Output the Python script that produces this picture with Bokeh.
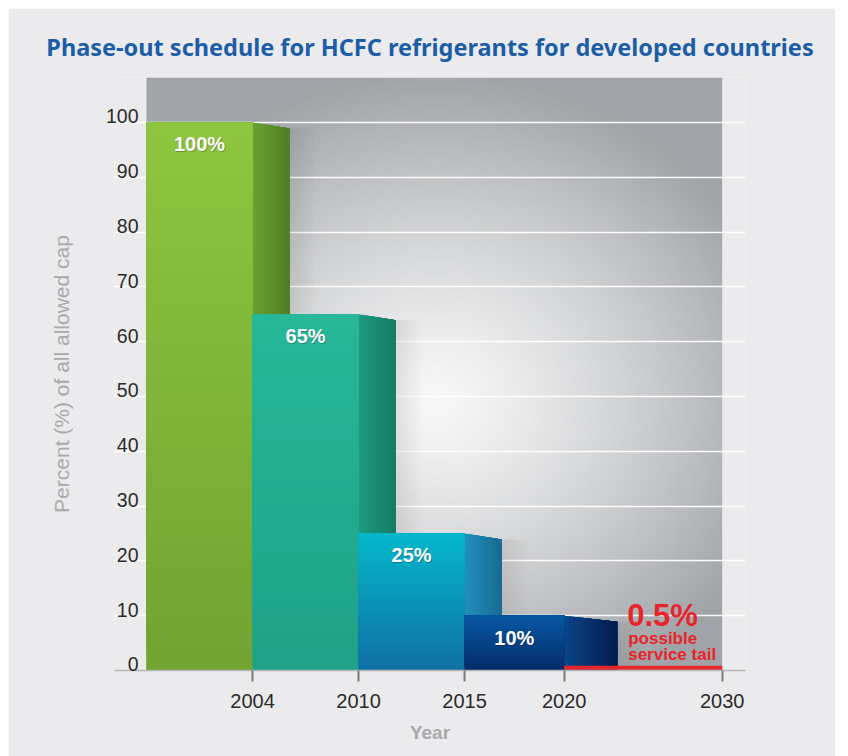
import numpy as np
from bokeh.plotting import figure
from bokeh.models import FixedTicker
from bokeh.core.properties import value
from bokeh.embed import file_html
from bokeh.resources import INLINE

# ---------------- data ----------------
years = ["2004", "2010", "2015", "2020", "2030"]
year_pos = [1.0, 2.0, 3.0, 3.94, 5.43]      # where each year sits on the drawn (non-linear) time axis
bar_values = [100, 65, 25, 10]
bar_labels = ["100%", "65%", "25%", "10%"]
tail_value = 0.5
tail_label = "0.5%"
tail_note = ["possible", "service tail"]
y_ticks = [0, 10, 20, 30, 40, 50, 60, 70, 80, 90, 100]

# ---------------- styles ----------------
front_top = ["#8dc63f", "#26b898", "#05b8cb", "#0858a3"]
front_bottom = ["#71a332", "#1fa287", "#1070a4", "#052c6a"]
side_left = ["#69a131", "#1d9a80", "#2190bc", "#0a4589"]
side_right = ["#4f7e25", "#177b64", "#186a92", "#021b4c"]
side_depth = [0.35, 0.35, 0.35, 0.5]
side_drop = 1.1
red = "#e8242a"
panel = "#ebebed"
FONT = value("Liberation Sans")

x_lo, x_hi = -0.302, 5.65
y_top = 108.2


def hex2rgb(h):
    h = h.lstrip("#")
    return np.array([int(h[i:i + 2], 16) for i in (0, 2, 4)], dtype=float)


def mix(a, b, t):
    c = hex2rgb(a) * (1 - t) + hex2rgb(b) * t
    return "#%02x%02x%02x" % tuple(int(round(v)) for v in c)


p = figure(width=827, height=748, x_range=(x_lo, x_hi), y_range=(0, y_top),
           output_backend="svg", toolbar_location=None,
           min_border_left=106, min_border_right=90, min_border_top=69, min_border_bottom=86,
           background_fill_color=panel, border_fill_color=panel, outline_line_color=None,
           title="Phase-out schedule for HCFC refrigerants for developed countries")
p.margin = (8, 0, 0, 8)

# title
p.title.text_font = "Noto Sans"
p.title.text_font_size = "23.5px"
p.title.text_font_style = "bold"
p.title.text_color = "#1b5ea7"
p.title.align = "center"
p.title.standoff = 30

# background radial gradient (behind the bars)
W, H = 576.0, 593.0
nx, ny = 200, 200
gx = np.linspace(0, W, nx)
gy = np.linspace(0, H, ny)
X, Y = np.meshgrid(gx, gy)
t = np.sqrt(((X - 290) / 360.0) ** 2 + ((Y - 270) / 330.0) ** 2)
t = np.clip(t, 0, 1) ** 1.25
c0 = np.array([248, 248, 248], dtype=float)
c1 = np.array([160, 163, 167], dtype=float)
img = np.empty((ny, nx), dtype=np.uint32)
view = img.view(dtype=np.uint8).reshape((ny, nx, 4))
for k in range(3):
    view[:, :, k] = (c0[k] + (c1[k] - c0[k]) * t).astype(np.uint8)
view[:, :, 3] = 255
bg = p.image_rgba(image=[img], x=0, y=0, dw=year_pos[4], dh=y_top)
bg.level = "image"

# grid
p.ygrid.ticker = FixedTicker(ticks=y_ticks)
p.ygrid.grid_line_color = "white"
p.ygrid.grid_line_width = 1.5
p.ygrid.grid_line_alpha = 0.95
p.xgrid.grid_line_color = None

lefts = [0.0] + year_pos[:3]
rights = year_pos[:4]

# soft shadows right of the side faces
S = 6
sh_xs, sh_ys, sh_a = [], [], []
for i, v in enumerate(bar_values):
    x0 = rights[i] + side_depth[i]
    for j in range(S):
        a = x0 + 0.04 * j
        b = x0 + 0.04 * (j + 1)
        sh_xs.append([a, a, b, b])
        sh_ys.append([0, v - side_drop, v - side_drop, 0])
        sh_a.append(0.07 * (1 - j / S))
p.patches(sh_xs, sh_ys, fill_color="black", fill_alpha=sh_a, line_color=None)

# side faces: overlapping strips, each running to the back edge (no seams)
N = 12
sx, sy, sc = [], [], []
for i, v in enumerate(bar_values):
    end = rights[i] + side_depth[i]
    for j in range(N):
        f0 = j / N
        a = rights[i] + side_depth[i] * f0
        sx.append([a, a, end, end])
        sy.append([0, v - side_drop * f0, v - side_drop, 0])
        sc.append(mix(side_left[i], side_right[i], (j + 0.5) / N))
p.patches(sx, sy, fill_color=sc, line_color=None)

# front faces (solid bar, then overlapping gradient strips)
p.quad(left=lefts, right=rights, bottom=0, top=bar_values,
       fill_color=front_bottom, line_color=None)
M = 30
ql, qr, qb, qt, qc = [], [], [], [], []
for i, v in enumerate(bar_values):
    for j in range(M):
        ql.append(lefts[i]); qr.append(rights[i])
        qb.append(v * j / M); qt.append(v)
        qc.append(mix(front_bottom[i], front_top[i], (j + 0.5) / M))
p.quad(left=ql, right=qr, bottom=qb, top=qt, fill_color=qc, line_color=None)

# value labels on bars
centers = [(a + b) / 2 for a, b in zip(lefts, rights)]
p.text(x=centers, y=bar_values, text=bar_labels, x_offset=1, y_offset=23,
       text_align="center", text_baseline="middle", text_font=FONT,
       text_font_size="20px", text_font_style="bold", text_color="black", text_alpha=0.25)
p.text(x=centers, y=bar_values, text=bar_labels, y_offset=22,
       text_align="center", text_baseline="middle", text_font=FONT,
       text_font_size="20px", text_font_style="bold", text_color="white")

# service tail
p.line(x=[year_pos[3], year_pos[4]], y=[tail_value, tail_value], line_color=red, line_width=4)
p.text(x=[year_pos[3]], y=[tail_value], text=[tail_label], x_offset=63, y_offset=-52,
       text_align="left", text_baseline="middle", text_font=FONT,
       text_font_size="31px", text_font_style="bold", text_color=red)
p.text(x=[year_pos[3]] * 2, y=[tail_value] * 2, text=tail_note, x_offset=64, y_offset=[-29, -13],
       text_align="left", text_baseline="middle", text_font=FONT,
       text_font_size="17px", text_font_style="bold", text_color=red)

# x axis
p.xaxis.ticker = FixedTicker(ticks=year_pos)
p.xaxis.major_label_overrides = {pos: y for pos, y in zip(year_pos, years)}
p.xaxis.axis_label = "Year"
p.xaxis.axis_label_text_font = "Liberation Sans"
p.xaxis.axis_label_text_font_size = "19px"
p.xaxis.axis_label_text_font_style = "bold"
p.xaxis.axis_label_text_color = "#a8a8aa"
p.xaxis.axis_label_standoff = 11
p.xaxis.major_label_text_font = "Liberation Sans"
p.xaxis.major_label_text_font_size = "20px"
p.xaxis.major_label_text_color = "#2b2b2b"
p.xaxis.major_label_standoff = 12
p.xaxis.axis_line_color = "#b4b4b6"
p.xaxis.axis_line_width = 1.5
p.xaxis.major_tick_line_color = "#7a7a7a"
p.xaxis.major_tick_line_width = 2
p.xaxis.major_tick_out = 11
p.xaxis.major_tick_in = 0
p.xaxis.minor_tick_line_color = None

# y axis (labels sit just above their grid lines)
label_lift = 1.1
p.yaxis.ticker = FixedTicker(ticks=[v + label_lift for v in y_ticks])
p.yaxis.major_label_overrides = {v + label_lift: str(v) for v in y_ticks}
p.yaxis.axis_label = "Percent (%) of all allowed cap"
p.yaxis.axis_label_text_font = "Liberation Sans"
p.yaxis.axis_label_text_font_size = "21px"
p.yaxis.axis_label_text_font_style = "normal"
p.yaxis.axis_label_text_color = "#a9a9ab"
p.yaxis.axis_label_standoff = 30
p.yaxis.major_label_text_font = "Liberation Sans"
p.yaxis.major_label_text_font_size = "19.5px"
p.yaxis.major_label_text_color = "#2b2b2b"
p.yaxis.major_label_standoff = -24
p.yaxis.axis_line_color = None
p.yaxis.major_tick_line_color = None
p.yaxis.minor_tick_line_color = None
p.yaxis.major_tick_out = 0
p.yaxis.major_tick_in = 0

open("out.html", "w").write(file_html(p, INLINE))
